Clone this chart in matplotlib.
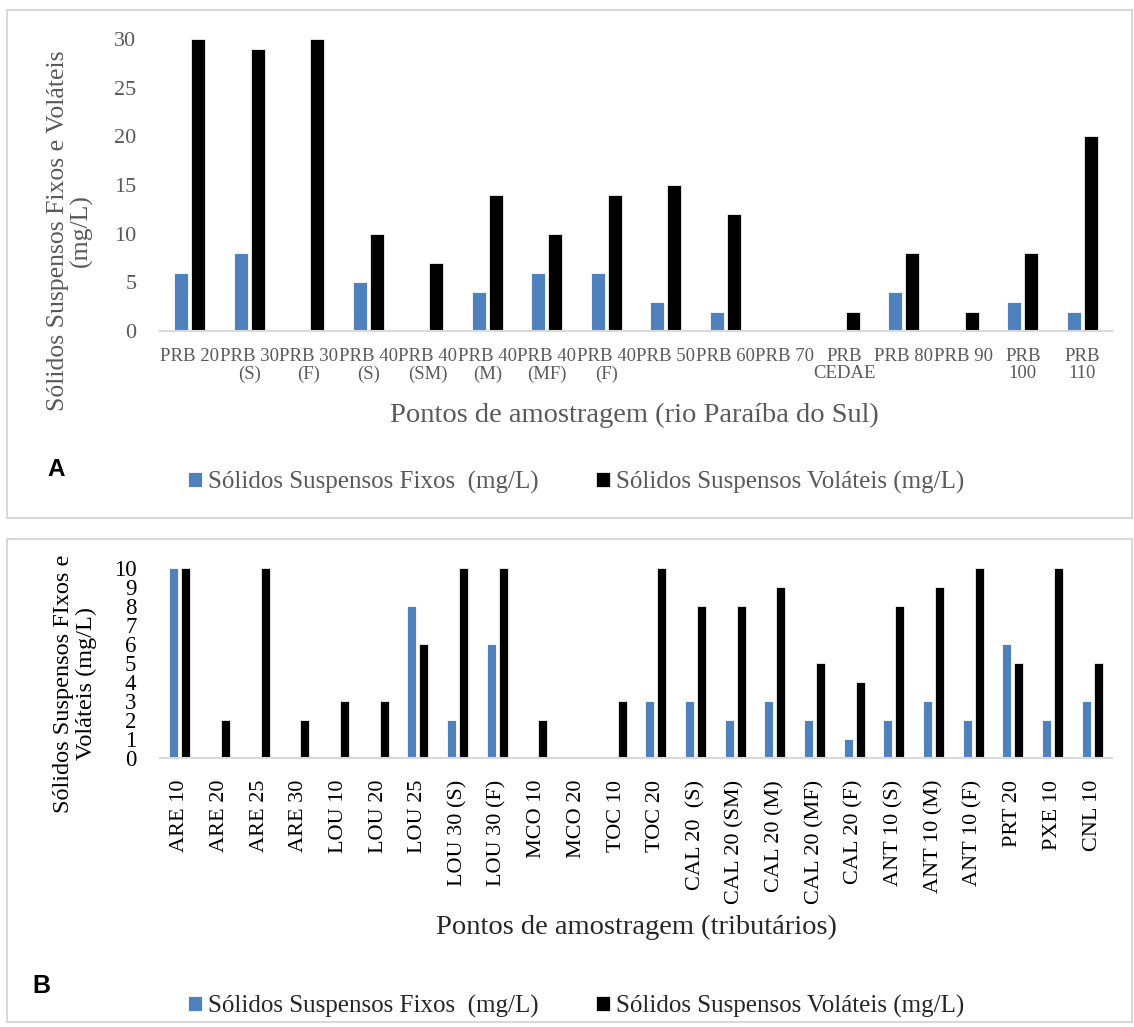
import numpy as np
import matplotlib.pyplot as plt
from matplotlib.patches import Rectangle

# painel A: rio Paraiba do Sul
rio_pontos = ['PRB 20', 'PRB 30\n(S)', 'PRB 30\n(F)', 'PRB 40\n(S)', 'PRB 40\n(SM)',
              'PRB 40\n(M)', 'PRB 40\n(MF)', 'PRB 40\n(F)', 'PRB 50', 'PRB 60', 'PRB 70',
              'PRB\nCEDAE', 'PRB 80', 'PRB 90', 'PRB\n100', 'PRB\n110']
rio_fixos = [6, 8, 0, 5, 0, 4, 6, 6, 3, 2, 0, 0, 4, 0, 3, 2]
rio_volateis = [30, 29, 30, 10, 7, 14, 10, 14, 15, 12, 0, 2, 8, 2, 8, 20]

# painel B: tributarios
trib_pontos = ['ARE 10', 'ARE 20', 'ARE 25', 'ARE 30', 'LOU 10', 'LOU 20', 'LOU 25',
               'LOU 30 (S)', 'LOU 30 (F)', 'MCO 10', 'MCO 20', 'TOC 10', 'TOC 20',
               'CAL 20  (S)', 'CAL 20 (SM)', 'CAL 20 (M)', 'CAL 20 (MF)', 'CAL 20 (F)',
               'ANT 10 (S)', 'ANT 10 (M)', 'ANT 10 (F)', 'PRT 20', 'PXE 10', 'CNL 10']
trib_fixos = [10, 0, 0, 0, 0, 0, 8, 2, 6, 0, 0, 0, 3, 3, 2, 3, 2, 1, 2, 3, 2, 6, 2, 3]
trib_volateis = [10, 2, 10, 2, 3, 3, 6, 10, 10, 2, 0, 3, 10, 8, 8, 9, 5, 4, 8, 9, 10, 5, 10, 5]

legenda = ['Sólidos Suspensos Fixos  (mg/L)', 'Sólidos Suspensos Voláteis (mg/L)']

AZUL = '#4f81bd'
PRETO = '#000000'
CINZA = '#595959'
LINHA = '#d9d9d9'
SERIF = 'Liberation Serif'

W, H = 1134, 1027
fig = plt.figure(figsize=(W / 100, H / 100), dpi=100)


def fx(px):
    return px / W


def fy(py):
    return 1 - py / H


# molduras dos dois paineis
for top, bot in [(10, 518), (539, 1022)]:
    fig.add_artist(Rectangle((fx(7), fy(bot)), fx(1132) - fx(7), fy(top) - fy(bot),
                             transform=fig.transFigure, fill=False, ec=LINHA, lw=1.5))


def painel(rect, pontos, fixos, volateis, largura, desloc, ymax, passo,
           cor_txt, tam_y, tam_x, rot):
    ax = fig.add_axes(rect)
    x = np.arange(len(pontos))
    b1 = ax.bar(x - desloc, fixos, largura, color=AZUL, edgecolor='white', linewidth=0.6)
    b2 = ax.bar(x + desloc, volateis, largura, color=PRETO, edgecolor='#f2f2f2', linewidth=0.6)
    ax.set_xlim(-0.5, len(pontos) - 0.5)
    ax.set_ylim(0, ymax)
    ax.set_yticks(np.arange(0, ymax + 0.1, passo))
    ax.set_xticks(x)
    ax.set_xticklabels(pontos, rotation=rot, family=SERIF, fontsize=tam_x,
                       color=cor_txt, linespacing=1.05)
    for t in ax.get_yticklabels():
        t.set_family(SERIF)
        t.set_fontsize(tam_y)
        t.set_color(cor_txt)
    for s in ['top', 'right', 'left']:
        ax.spines[s].set_visible(False)
    ax.spines['bottom'].set_color(LINHA)
    ax.spines['bottom'].set_linewidth(1.5)
    ax.tick_params(length=0)
    ax.tick_params(axis='y', pad=17)
    ax.tick_params(axis='x', pad=12)
    return ax, b1, b2


axA, a1, a2 = painel([fx(160), fy(331), fx(1112) - fx(160), fy(39) - fy(331)],
                     rio_pontos, rio_fixos, rio_volateis, 0.235, 0.143, 30, 5,
                     CINZA, 16, 13.5, 0)
axB, c1, c2 = painel([fx(160), fy(757.7), fx(1112) - fx(160), fy(568.3) - fy(757.7)],
                     trib_pontos, trib_fixos, trib_volateis, 0.227, 0.15, 10, 1,
                     PRETO, 16.5, 16, 90)
axB.tick_params(axis='x', pad=16)

# titulos dos eixos
fig.text(fx(70), fy(231), 'Sólidos Suspensos Fixos e Voláteis\n(mg/L)', rotation=90,
         ha='center', va='center', multialignment='center', family=SERIF,
         fontsize=18.5, color=CINZA, linespacing=1.05)
fig.text(fx(634), fy(415), 'Pontos de amostragem (rio Paraíba do Sul)', ha='center',
         va='center', family=SERIF, fontsize=20.5, color=CINZA)
fig.text(fx(75), fy(684), 'Sólidos Suspensos FIxos e\nVoláteis (mg/L)', rotation=90,
         ha='center', va='center', multialignment='center', family=SERIF,
         fontsize=17.5, color=PRETO, linespacing=1.1)
fig.text(fx(636), fy(927), 'Pontos de amostragem (tributários)', ha='center',
         va='center', family=SERIF, fontsize=20.5, color='#262626')

# letras dos paineis
fig.text(fx(47), fy(470), 'A', ha='left', va='center', family='Liberation Sans',
         weight='bold', fontsize=17.5)
fig.text(fx(32), fy(986), 'B', ha='left', va='center', family='Liberation Sans',
         weight='bold', fontsize=18)

# legendas
for (h1, h2), yc, cor in [((a1, a2), 482, CINZA), ((c1, c2), 1006, '#262626')]:
    leg = fig.legend([h1, h2], legenda, loc='center left', bbox_to_anchor=(fx(188), fy(yc)),
                     ncol=2, frameon=False, handlelength=0.55, handleheight=0.55,
                     handletextpad=0.25, columnspacing=2.3, borderpad=0, borderaxespad=0,
                     prop={'family': SERIF, 'size': 18})
    for t in leg.get_texts():
        t.set_color(cor)

fig.savefig('out.png', dpi=100)
